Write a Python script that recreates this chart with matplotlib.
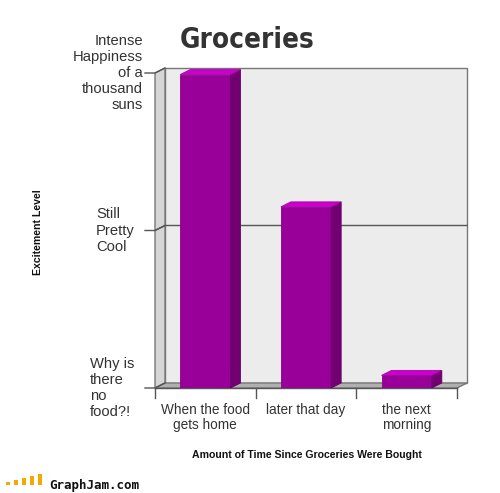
import matplotlib
matplotlib.use("Agg")
import matplotlib.pyplot as plt
from matplotlib.patches import Polygon, Rectangle

# ---- data ----
categories = ["When the food\ngets home", "later that day", "the next\nmorning"]
values = [1.99, 1.15, 0.08]
ytick_values = [0, 1, 2]
ytick_labels = ["Why is\nthere\nno\nfood?!", "Still\nPretty\nCool",
                "Intense\nHappiness\nof a\nthousand\nsuns"]
title = "Groceries"
xlabel = "Amount of Time Since Groceries Were Bought"
ylabel = "Excitement Level"

W, H = 500, 493
fig = plt.figure(figsize=(W / 100, H / 100), dpi=100)
plt.rcParams['font.family'] = ['Liberation Sans', 'DejaVu Sans']

# axes covers front-plane origin to back-wall top-right (pixels)
x0p, x1p, y0p, y1p = 155, 467, 388, 68
ax = fig.add_axes([x0p / W, 1 - y0p / H, (x1p - x0p) / W, (y0p - y1p) / H])
n = len(categories)
px_per_x = (457 - 155) / n
px_per_y = (388 - 73) / 2.0
dx = 10 / px_per_x
dy = 5 / px_per_y
ax.set_xlim(0, n + dx)
ax.set_ylim(0, 2 + dy)
ax.axis('off')

edge = '#777777'
# back wall
ax.add_patch(Rectangle((dx, dy), n, 2, facecolor='#ececec', edgecolor=edge, lw=1, clip_on=False, zorder=1))
# side wall
ax.add_patch(Polygon([(0, 0), (dx, dy), (dx, 2 + dy), (0, 2)], closed=True,
                     facecolor='#d6d6d6', edgecolor=edge, lw=1, clip_on=False, zorder=1))
# floor
ax.add_patch(Polygon([(0, 0), (n, 0), (n + dx, dy), (dx, dy)], closed=True,
                     facecolor='#b0b0b0', edgecolor=edge, lw=1, clip_on=False, zorder=2))
# gridlines
for v in ytick_values[1:-1]:
    ax.plot([0, dx, n + dx], [v, v + dy, v + dy], color='#555555', lw=1, clip_on=False, zorder=2)
# y ticks
tick_len_x = 10 / px_per_x
for v in ytick_values:
    ax.plot([-tick_len_x, 0, dx], [v, v, v + dy], color='#555555', lw=1, clip_on=False, zorder=3)
# x ticks
tick_len_y = 10 / px_per_y
for i in range(n + 1):
    ax.plot([i, i], [0, -tick_len_y], color='#555555', lw=1, clip_on=False, zorder=3)
ax.plot([0, n], [0, 0], color='#555555', lw=1, clip_on=False, zorder=3)

# bars
bw = 0.5
for i, v in enumerate(values):
    xl = i + (1 - bw) / 2
    xr = xl + bw
    ax.add_patch(Rectangle((xl, 0), bw, v, facecolor='#990099', edgecolor='#880088', lw=0.6, zorder=5))
    ax.add_patch(Polygon([(xr, 0), (xr + dx, dy), (xr + dx, v + dy), (xr, v)], closed=True,
                         facecolor='#730073', edgecolor='#660066', lw=0.6, zorder=5))
    ax.add_patch(Polygon([(xl, v), (xr, v), (xr + dx, v + dy), (xl + dx, v + dy)], closed=True,
                         facecolor='#cc00cc', edgecolor='#aa00aa', lw=0.6, zorder=5))

# y tick labels
yfs = 10.6
ax.text(-12 / px_per_x, 2, ytick_labels[2], ha='right', va='center', fontsize=yfs,
        color='#333333', linespacing=1.2, clip_on=False)
ax.text(-59 / px_per_x, 1, ytick_labels[1], ha='left', va='center', fontsize=yfs,
        color='#333333', linespacing=1.2, clip_on=False)
ax.text(-65 / px_per_x, 0, ytick_labels[0], ha='left', va='center', fontsize=yfs,
        color='#333333', linespacing=1.2, clip_on=False)
# x tick labels
fs = 9.8
for i, c in enumerate(categories):
    ax.text(i + 0.5, -15 / px_per_y, c, ha='center', va='top', fontsize=fs,
            color='#333333', linespacing=1.1, clip_on=False)

fig.text(307 / W, 1 - 455 / H, xlabel, ha='center', va='center', fontsize=7.6,
         fontweight='bold', color='#111111')
fig.text(38 / W, 1 - 232 / H, ylabel, ha='center', va='center', fontsize=7.6,
         fontweight='bold', color='#111111', rotation=90)
fig.text(247 / W, 1 - 40 / H, title, ha='center', va='center', fontsize=20,
         fontweight='bold', color='#333333', family=['DejaVu Sans'], fontstretch='condensed')

# watermark
for k, hgt in enumerate([3, 5, 7, 9, 11]):
    fig.patches.append(Rectangle(((6 + 8 * k) / W, 8 / H), 4 / W, hgt / H,
                                 transform=fig.transFigure, facecolor='#f5a800', edgecolor='none'))
fig.text(49 / W, 1 - 486 / H, "GraphJam.com", ha='left', va='center', fontsize=9,
         fontweight='bold', color='#111111', family=['DejaVu Sans Mono', 'DejaVu Sans'])

fig.savefig("out.png", dpi=100, facecolor='white')
